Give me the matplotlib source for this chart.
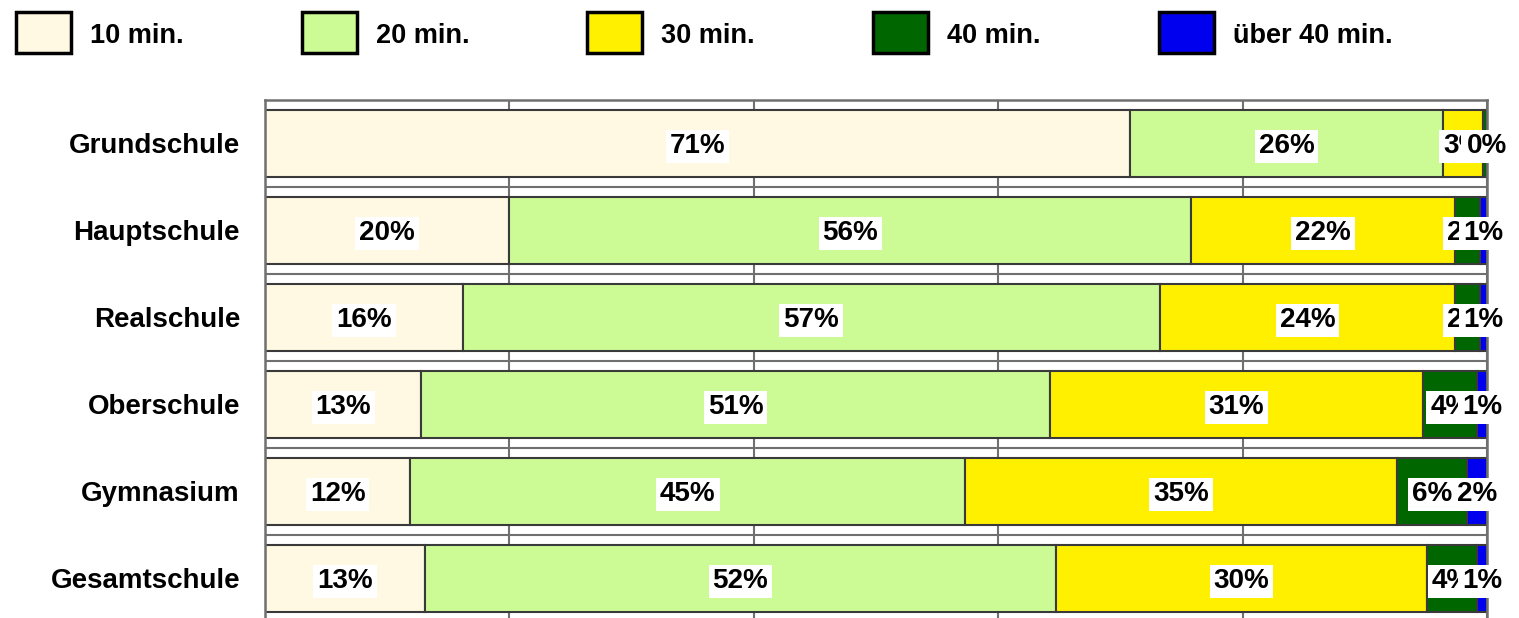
import matplotlib.pyplot as plt
from matplotlib.patches import Rectangle
import numpy as np

plt.rcParams['font.family'] = ['Liberation Sans', 'DejaVu Sans']

schulen = ['Grundschule', 'Hauptschule', 'Realschule', 'Oberschule', 'Gymnasium', 'Gesamtschule']
kategorien = ['10 min.', '20 min.', '30 min.', '40 min.', 'über 40 min.']
farben = ['#FFF8E2', '#CCFB96', '#FFF000', '#006600', '#0000EE']

# Anteile in Prozent je Schulform (Spalten: 10, 20, 30, 40, >40 min.)
min10 = [70.8, 20.0, 16.2, 12.8, 11.9, 13.1]
min20 = [25.6, 55.8, 57.0, 51.4, 45.4, 51.6]
min30 = [3.3, 21.6, 24.2, 30.6, 35.3, 30.4]
min40 = [0.3, 2.0, 2.0, 4.4, 5.8, 4.1]
ueber40 = [0.0, 0.6, 0.6, 0.8, 1.6, 0.8]

werte = np.array([min10, min20, min30, min40, ueber40])

fig = plt.figure(figsize=(15.19, 6.18), dpi=100)
ax = fig.add_axes([265 / 1519, 1 - 622 / 618, 1222 / 1519, 522 / 618])

y = np.arange(len(schulen))
links = np.zeros(len(schulen))
for i, kat in enumerate(kategorien):
    ax.barh(y, werte[i], left=links, height=0.76, color=farben[i],
            edgecolor='#3a3a3a', linewidth=1.5, zorder=2)
    for j in range(len(schulen)):
        ax.text(links[j] + werte[i][j] / 2, y[j], '%.0f%%' % werte[i][j],
                ha='center', va='center_baseline', fontsize=20, fontweight='bold',
                color='black', zorder=4,
                bbox=dict(boxstyle='square,pad=0.14', fc='white', ec='none'))
    links += werte[i]

ax.set_xlim(0, 100)
ax.set_ylim(len(schulen) - 0.5, -0.5)
ax.set_xticks([0, 20, 40, 60, 80, 100])
ax.set_xticklabels([])
ax.set_yticks(y)
ax.set_yticklabels(schulen, fontsize=20, fontweight='bold', va='center_baseline')
ax.set_yticks(np.arange(len(schulen)) + 0.5, minor=True)
ax.tick_params(axis='y', which='both', length=0, pad=18)
ax.tick_params(axis='x', length=0)
ax.grid(axis='x', color='#707070', linewidth=1.5, zorder=0)
ax.grid(axis='y', which='minor', color='#707070', linewidth=1.5, zorder=0)
ax.set_axisbelow(True)
for s in ['left', 'right', 'top']:
    ax.spines[s].set_color('#707070')
    ax.spines[s].set_linewidth(1.8)
ax.spines['bottom'].set_visible(False)

# Legende oben
for i, kat in enumerate(kategorien):
    x0 = 16 + i * 285.7
    fig.patches.append(Rectangle((x0 / 1519, 1 - 53 / 618), 55 / 1519, 41 / 618,
                                 transform=fig.transFigure, facecolor=farben[i],
                                 edgecolor='black', linewidth=2.5))
    fig.text((x0 + 74) / 1519, 1 - 36 / 618, kat, ha='left', va='center',
             fontsize=19.5, fontweight='bold')

fig.savefig('out.png', dpi=100)
